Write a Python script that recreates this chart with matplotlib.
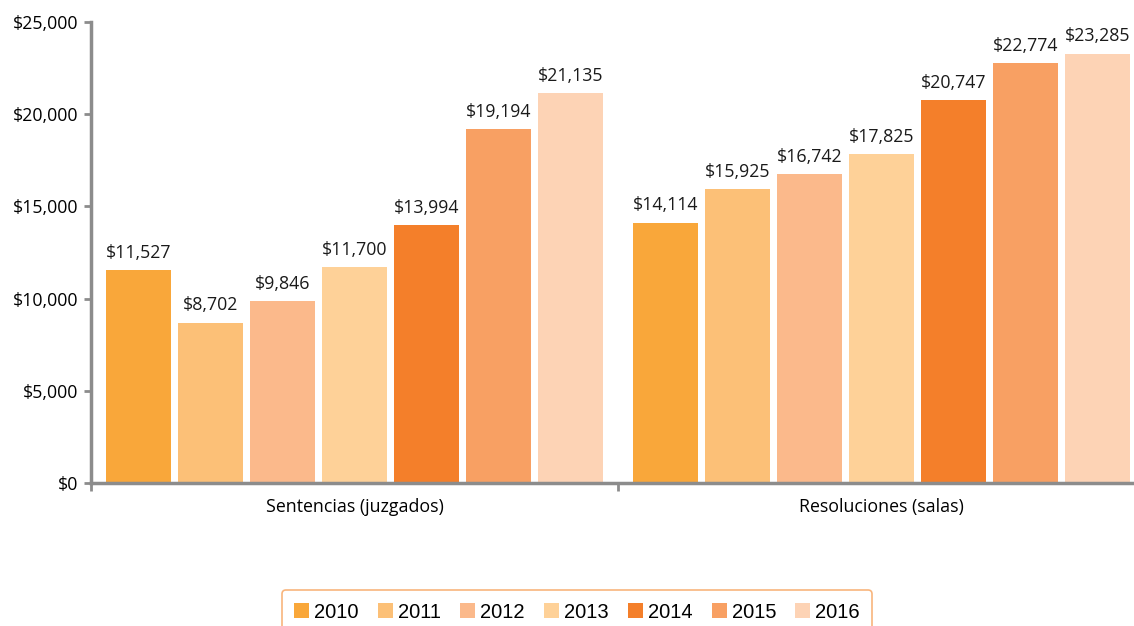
import matplotlib.pyplot as plt
import numpy as np
from matplotlib.ticker import FuncFormatter

plt.rcParams['font.family'] = ['Open Sans', 'DejaVu Sans']

categories = ['Sentencias (juzgados)', 'Resoluciones (salas)']
years = ['2010', '2011', '2012', '2013', '2014', '2015', '2016']
values = {
    '2010': [11527, 14114],
    '2011': [8702, 15925],
    '2012': [9846, 16742],
    '2013': [11700, 17825],
    '2014': [13994, 20747],
    '2015': [19194, 22774],
    '2016': [21135, 23285],
}
colors = ['#F9A73A', '#FCC077', '#FBB98B', '#FED198', '#F47F2A', '#F8A063', '#FDD3B5']

fig = plt.figure(figsize=(11.34, 6.26), dpi=100)
ax = fig.add_axes([91 / 1134, 1 - 483 / 626, (1145 - 91) / 1134, (483 - 22) / 626])

x = np.arange(len(categories))
pitch = 0.1366
width = 0.125
for i, yr in enumerate(years):
    pos = x + (i - 3) * pitch
    bars = ax.bar(pos, values[yr], width, color=colors[i], label=yr, zorder=2)
    for b, v in zip(bars, values[yr]):
        ax.text(b.get_x() + b.get_width() / 2, v + 450, '${:,}'.format(v),
                ha='center', va='bottom', fontsize=12.8, color='#1a1a1a')

ax.set_xlim(-0.5, 1.5)
ax.set_ylim(0, 25000)
ax.set_yticks(np.arange(0, 25001, 5000))
ax.yaxis.set_major_formatter(FuncFormatter(lambda v, p: '${:,.0f}'.format(v)))
ax.set_xticks([-0.5, 0.5, 1.5])
ax.set_xticklabels([])
ax.set_xticks(x, minor=True)
ax.set_xticklabels(categories, minor=True)
ax.tick_params(axis='x', which='minor', length=0, pad=11, labelsize=12.8)
ax.tick_params(axis='x', which='major', length=6, width=2, color='#8c8c8c')
ax.tick_params(axis='y', length=5, width=2, color='#8c8c8c', labelsize=12.8, pad=4)

for s in ['top', 'right']:
    ax.spines[s].set_visible(False)
for s in ['left', 'bottom']:
    ax.spines[s].set_color('#8c8c8c')
    ax.spines[s].set_linewidth(2.5)

leg = fig.legend(loc='center', bbox_to_anchor=(577 / 1134, 1 - 612 / 626), ncol=7,
                 frameon=True, fancybox=True, handlelength=0.75,
                 handleheight=0.75, handletextpad=0.25, columnspacing=0.95,
                 borderpad=0.6, borderaxespad=0, prop={'family': 'Liberation Sans', 'size': 14.5})
leg.get_frame().set_edgecolor('#F7A35C')
leg.get_frame().set_linewidth(1.2)

fig.savefig('out.png', dpi=100)
